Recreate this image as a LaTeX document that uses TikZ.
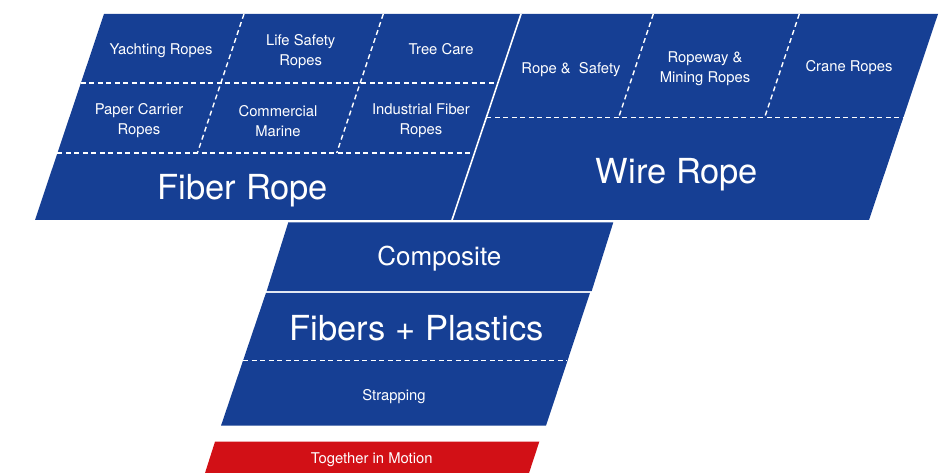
\documentclass[tikz,border=0pt]{standalone}
\usepackage{fontspec}
\setmainfont{TeX Gyre Heros}
\definecolor{ropeblue}{RGB}{22,63,148}
\definecolor{ropered}{RGB}{210,16,22}
\begin{document}
\begin{tikzpicture}[x=1pt,y=-1pt,
  panel/.style={fill=ropeblue,draw=none},
  sep/.style={draw=white,line width=1.6pt},
  dashsep/.style={draw=white,line width=1.4pt,dash pattern=on 5pt off 3.5pt},
  small/.style={text=white,align=center,inner sep=0pt,font=\fontsize{14.8}{20}\selectfont},
  big/.style={text=white,inner sep=0pt,font=\fontsize{34.5}{40}\selectfont},
  mid/.style={text=white,inner sep=0pt,font=\fontsize{26}{30}\selectfont}]
\useasboundingbox (0,0) rectangle (948,473);
% Fiber rope and wire rope panels
\fill[panel] (104,14) -- (521,14) -- (452,220) -- (35,220) -- cycle;
\fill[panel] (521,14) -- (938,14) -- (869,220) -- (452,220) -- cycle;
\draw[sep] (521,14) -- (452,220);
% fiber rope grid
\draw[dashsep] (80.9,83) -- (497.9,83);
\draw[dashsep] (57.4,153) -- (474.4,153);
\draw[dashsep] (244,14) -- (197.4,153);
\draw[dashsep] (383.3,14) -- (336.7,153);
% wire rope grid
\draw[dashsep] (486.4,117.3) -- (903.4,117.3);
\draw[dashsep] (653.3,14) -- (618.7,117.3);
\draw[dashsep] (799.3,14) -- (764.7,117.3);
% composite
\fill[panel] (288.3,222.3) -- (613.3,222.3) -- (591.7,291) -- (266.7,291) -- cycle;
% fibers + plastics
\fill[panel] (266,292.8) -- (590,292.8) -- (546,425.7) -- (221,425.7) -- cycle;
\draw[dashsep] (243,360.7) -- (567,360.7);
% red bar
\fill[ropered] (215,441.7) -- (539.3,441.7) -- (528.7,474) -- (204.7,474) -- cycle;
% labels
\node[small,anchor=base] (yacht) at (161,55) {Yachting Ropes};
\node[small] (life) at (300.7,52) {Life Safety\\Ropes};
\node[small,anchor=base] (tree) at (441,55) {Tree Care};
\node[small] (paper) at (139,121) {Paper Carrier\\Ropes};
\node[small] (comm) at (278,121) {Commercial\\Marine};
\node[small] (indus) at (421,121) {Industrial Fiber\\Ropes};
\node[big,anchor=base] (fiber) at (243,200) {Fiber Rope};
\node[small,anchor=base] (safety) at (571,73.3) {Rope \&\ \ Safety};
\node[small] (ropeway) at (705,69) {Ropeway \&\\Mining Ropes};
\node[small,anchor=base] (crane) at (849,71.7) {Crane Ropes};
\node[big,anchor=base] (wire) at (677,183.3) {Wire Rope};
\node[mid,anchor=base] (composite) at (439.3,265.7) {Composite};
\node[big,anchor=base] (fp) at (416.7,340) {Fibers + Plastics};
\node[small,anchor=base] (strap) at (394,400) {Strapping};
\node[small,anchor=base] (motto) at (371.7,463.3) {Together in Motion};
\end{tikzpicture}
\end{document}
